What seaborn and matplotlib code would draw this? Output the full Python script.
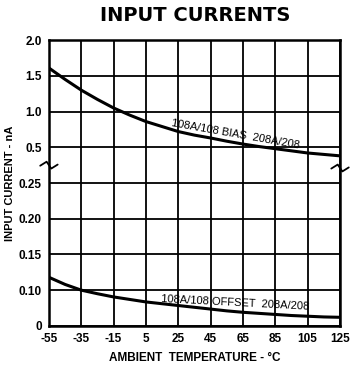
import numpy as np
import pandas as pd
import matplotlib
matplotlib.use("Agg")
import matplotlib.pyplot as plt
import seaborn as sns

# Data
temps = [-55, -45, -35, -25, -15, -5, 5, 15, 25, 35, 45, 55, 65, 75, 85, 95, 105, 115, 125]
bias = [1.61, 1.45, 1.30, 1.17, 1.05, 0.95, 0.86, 0.79, 0.72, 0.67, 0.63, 0.585,
        0.545, 0.51, 0.49, 0.475, 0.46, 0.45, 0.44]
offset = [0.118, 0.108, 0.100, 0.090, 0.081, 0.074, 0.067, 0.062, 0.057, 0.052,
          0.047, 0.042, 0.038, 0.035, 0.032, 0.029, 0.027, 0.025, 0.024]

x_ticks = [-55, -35, -15, 5, 25, 45, 65, 85, 105, 125]
y_ticks = [0, 0.10, 0.15, 0.20, 0.25, 0.5, 1.0, 1.5, 2.0]
y_labels = ["0", "0.10", "0.15", "0.20", "0.25", "0.5", "1.0", "1.5", "2.0"]

df = pd.DataFrame({"temp": temps + temps,
                   "current": bias + offset,
                   "kind": ["bias"] * len(temps) + ["offset"] * len(temps)})

sns.set_style("white")
plt.rcParams["font.family"] = ["Liberation Sans", "DejaVu Sans"]
plt.rcParams["text.color"] = "black"
plt.rcParams["axes.labelcolor"] = "black"
plt.rcParams["xtick.color"] = "black"
plt.rcParams["ytick.color"] = "black"

fig = plt.figure(figsize=(3.52, 3.75), dpi=100)
ax = fig.add_axes([0.139, 0.131, 0.827, 0.762])

# piecewise axis: every gridline gets equal spacing
grid_idx = np.arange(len(y_ticks), dtype=float)
fwd = lambda v: np.interp(v, y_ticks, grid_idx)
inv = lambda u: np.interp(u, grid_idx, y_ticks)
ax.set_yscale("function", functions=(fwd, inv))

sns.lineplot(data=df, x="temp", y="current", units="kind", estimator=None,
             color="black", linewidth=2.2, ax=ax, legend=False)

ax.set_xlim(-55, 125)
ax.set_ylim(0, 2.0)
ax.set_xticks(x_ticks)
ax.set_xticklabels([str(t) for t in x_ticks])
ax.set_yticks(y_ticks)
ax.set_yticklabels(y_labels)
ax.minorticks_off()
ax.tick_params(length=0, pad=5, labelsize=8.5)
for lab in ax.get_xticklabels() + ax.get_yticklabels():
    lab.set_fontweight("bold")

ax.grid(True, color="black", linewidth=1.3)
for s in ax.spines.values():
    s.set_color("black")
    s.set_linewidth(1.8)

# break marks on both sides
yb = 4.5 / 8
zx = np.array([-0.03, -0.008, 0.008, 0.03])
zy = np.array([yb - 0.002, yb + 0.012, yb - 0.012, yb + 0.002])
ax.plot(zx, zy, color="black", lw=1.3, transform=ax.transAxes, clip_on=False)
ax.plot(1 + zx, zy - 0.01, color="black", lw=1.3, transform=ax.transAxes, clip_on=False)

ax.annotate("108A/108 BIAS  208A/208", xy=(60, 0.565), xytext=(0, 2.5),
            textcoords="offset points", rotation=-10, ha="center", va="bottom",
            fontsize=8, rotation_mode="anchor")
ax.annotate("108A/108 OFFSET  208A/208", xy=(60, 0.040), xytext=(0, 3),
            textcoords="offset points", rotation=-3, ha="center", va="bottom",
            fontsize=8, rotation_mode="anchor")

ax.set_xlabel("AMBIENT  TEMPERATURE - °C", fontsize=8.5, fontweight="bold")
ax.xaxis.set_label_coords(0.5, -0.09)
ax.set_ylabel("INPUT CURRENT - nA", fontsize=8, fontweight="bold")
ax.yaxis.set_label_coords(-0.115, 0.5)
fig.text(0.554, 0.958, "INPUT CURRENTS", ha="center", va="center", fontsize=14,
         fontweight="heavy", family="DejaVu Sans")

fig.savefig("out.png", dpi=100)
